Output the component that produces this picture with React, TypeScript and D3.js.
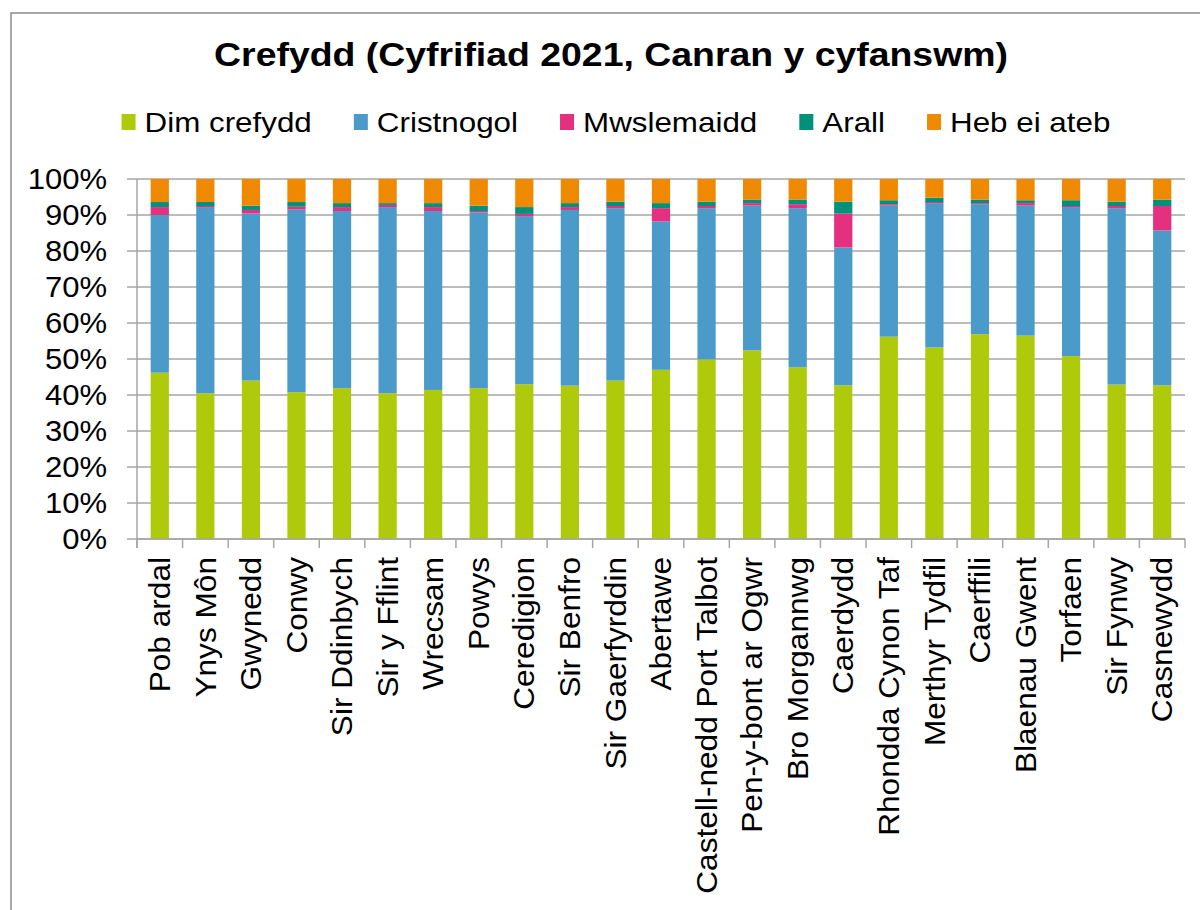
import React from "react";
import * as d3 from "d3";

const categories = ["Pob ardal","Ynys Môn","Gwynedd","Conwy","Sir Ddinbych","Sir y Fflint","Wrecsam","Powys","Ceredigion","Sir Benfro","Sir Gaerfyrddin","Abertawe","Castell-nedd Port Talbot","Pen-y-bont ar Ogwr","Bro Morgannwg","Caerdydd","Rhondda Cynon Taf","Merthyr Tydfil","Caerffili","Blaenau Gwent","Torfaen","Sir Fynwy","Casnewydd"];
const dimCrefydd = [46.2,40.5,44.0,40.8,41.9,40.5,41.4,41.9,43.0,42.6,44.0,47.0,49.9,52.4,47.7,42.7,56.2,53.2,56.9,56.5,50.8,42.9,42.7];
const cristnogol = [43.8,51.7,46.4,50.7,49.2,51.7,49.7,48.8,46.7,48.8,47.9,41.2,42.0,40.2,44.2,38.3,36.4,40.1,36.1,36.1,41.4,49.0,43.0];
const mwslemaidd = [2.2,0.3,1.0,0.8,1.1,0.6,1.1,0.4,0.6,0.8,0.6,3.7,0.6,0.7,1.1,9.4,0.4,0.3,0.3,0.7,0.3,0.6,6.8];
const arall = [1.4,1.1,1.2,1.3,1.1,0.5,1.1,1.5,1.9,1.1,1.2,1.4,1.2,1.0,1.3,3.3,1.1,1.2,1.0,0.8,1.6,1.2,1.8];
const hebEiAteb = [6.4,6.4,7.4,6.4,6.7,6.7,6.7,7.4,7.8,6.7,6.3,6.7,6.3,5.7,5.7,6.3,5.9,5.2,5.7,5.9,5.9,6.3,5.7];
const seriesNames = ["Dim crefydd","Cristnogol","Mwslemaidd","Arall","Heb ei ateb"];
const seriesKeys = ["dim","crist","mwsl","arall","heb"];
const seriesColors = ["#AFCA0B","#4A9BCA","#E52F7F","#00917A","#EF8A00"];
const yTicks = [0,10,20,30,40,50,60,70,80,90,100];
const title = "Crefydd (Cyfrifiad 2021, Canran y cyfanswm)";

const FONT = "'Liberation Sans', Arial, sans-serif";

function textWidth(t: string, font: string) {
  const c = document.createElement("canvas").getContext("2d")!;
  c.font = font;
  return c.measureText(t).width;
}

export default function App() {
  const W = 1200, H = 910;
  const left = 137, right = 1185, top = 179, bottom = 539;
  const rows = categories.map((c, i) => ({
    cat: c, dim: dimCrefydd[i], crist: cristnogol[i], mwsl: mwslemaidd[i], arall: arall[i], heb: hebEiAteb[i],
  }));
  const stack = d3.stack<any>().keys(seriesKeys)(rows);
  const x = d3.scaleBand<string>().domain(categories).range([left, right]).paddingInner(0.6).paddingOuter(0.3);
  const y = d3.scaleLinear().domain([0, 100]).range([bottom, top]);
  const step = x.step();
  const edges = d3.range(categories.length + 1).map(i => left + i * step);

  const legendFont = `28px ${FONT}`;
  const lsx = 1.12;
  const marker = 14, mGap = 9, itemGap = 42;
  const widths = seriesNames.map(n => textWidth(n, legendFont) * lsx);
  const total = widths.reduce((a, b) => a + b, 0) + seriesNames.length * (marker + mGap) + (seriesNames.length - 1) * itemGap;
  let lx = 616 - total / 2;
  const legendItems = seriesNames.map((n, i) => {
    const it = { name: n, x: lx, color: seriesColors[i] };
    lx += marker + mGap + widths[i] + itemGap;
    return it;
  });

  return (
    <svg width={W} height={H} style={{ position: "absolute", left: 0, top: 0, background: "#fff" }} fontFamily={FONT}>
      <rect x={11} y={13} width={1300} height={1000} fill="#fff" stroke="#8c8c8c" strokeWidth={1.5} />
      <g transform="translate(611,66) scale(1.1,1)">
        <text x={0} y={0} textAnchor="middle" fontSize={34} fontWeight="bold" fill="#000">{title}</text>
      </g>
      {legendItems.map(it => (
        <g key={it.name}>
          <rect x={it.x} y={114} width={marker} height={16} fill={it.color} />
          <g transform={`translate(${it.x + marker + mGap},132) scale(${lsx},1)`}>
            <text x={0} y={0} fontSize={28} fill="#000">{it.name}</text>
          </g>
        </g>
      ))}
      {yTicks.map(t => (
        <g key={t}>
          <line x1={left - 10} x2={right} y1={y(t)} y2={y(t)} stroke="#a6a6a6" strokeWidth={1.5} />
          <g transform={`translate(107,${y(t)}) scale(1.07,1)`}>
            <text x={0} y={0} dy="0.35em" textAnchor="end" fontSize={29} fill="#000">{t}%</text>
          </g>
        </g>
      ))}
      {stack.map((s, si) => (
        <g key={seriesKeys[si]} fill={seriesColors[si]}>
          {s.map((d: any, i: number) => (
            <rect key={i} x={x(categories[i])!} width={x.bandwidth()} y={y(d[1])} height={y(d[0]) - y(d[1])} />
          ))}
        </g>
      ))}
      <line x1={left} x2={left} y1={top} y2={bottom + 9} stroke="#a6a6a6" strokeWidth={1.5} />
      <line x1={left} x2={right} y1={bottom} y2={bottom} stroke="#a6a6a6" strokeWidth={1.5} />
      {edges.map((e, i) => (
        <line key={i} x1={e} x2={e} y1={bottom} y2={bottom + 9} stroke="#a6a6a6" strokeWidth={1.5} />
      ))}
      {categories.map(c => (
        <text key={c} transform={`translate(${x(c)! + x.bandwidth() / 2},557) rotate(-90) scale(1.09,1)`} dy="0.35em" textAnchor="end" fontSize={29} fill="#000">{c}</text>
      ))}
    </svg>
  );
}
